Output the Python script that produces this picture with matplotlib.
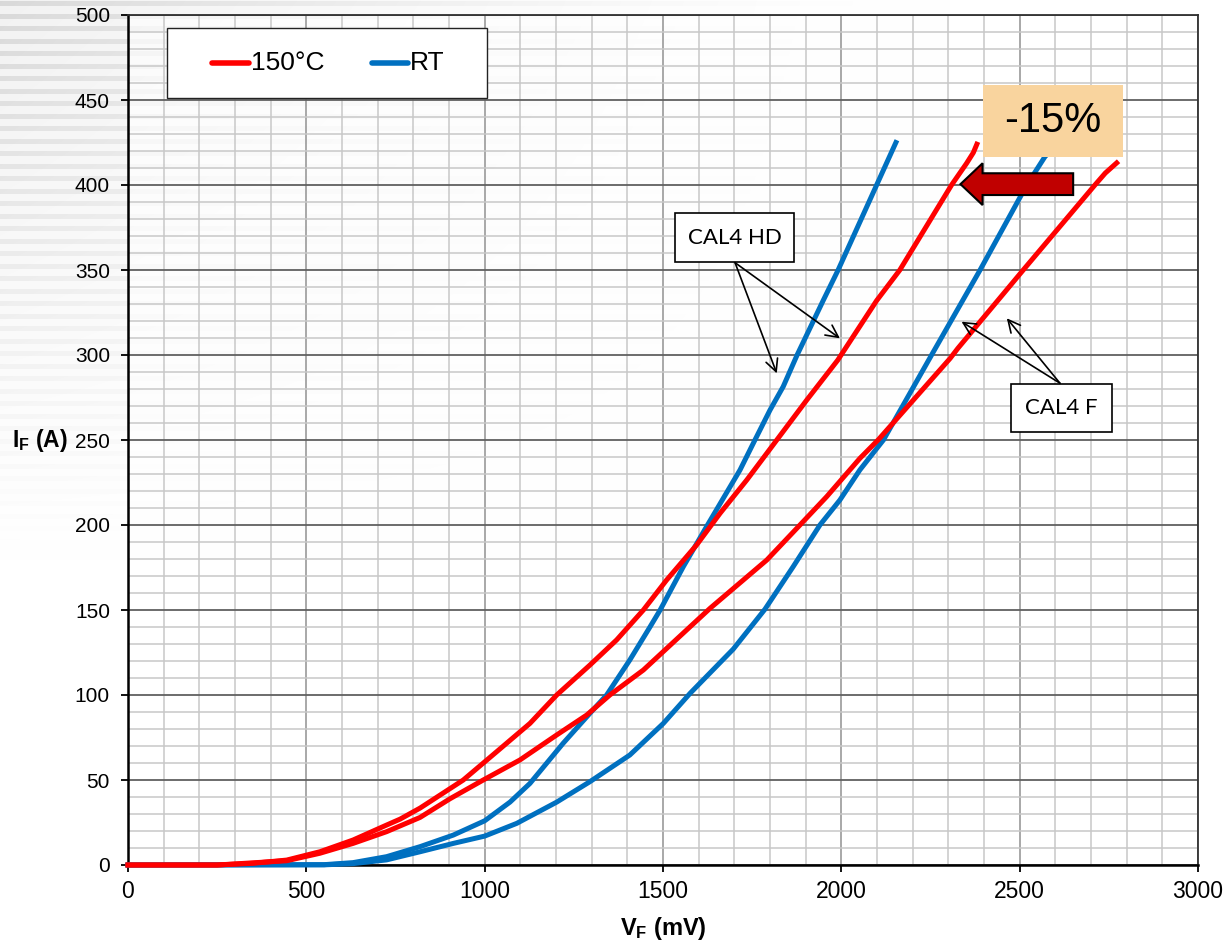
import numpy as np
import matplotlib
matplotlib.use("Agg")
import matplotlib.pyplot as plt
from matplotlib.patches import Rectangle, Polygon
from matplotlib.lines import Line2D
from matplotlib.ticker import MultipleLocator

plt.rcParams['font.family'] = ['Liberation Sans', 'DejaVu Sans']
plt.rcParams['mathtext.fontset'] = 'custom'
plt.rcParams['mathtext.rm'] = 'Liberation Sans'
plt.rcParams['mathtext.bf'] = 'Liberation Sans:bold'

# ---------------- data (V_F in mV, I_F in A) ----------------
red_hd_v = [0, 250, 351, 445, 538, 631, 725, 763, 819, 940, 1034, 1127, 1202, 1295, 1370,
            1445, 1510, 1594, 1660, 1735, 1819, 1903, 1990, 2099, 2164, 2309, 2351, 2370, 2380]
red_hd_i = [0, 0, 1.0, 2.9, 7.8, 14.7, 23.5, 27, 33.5, 50, 66.7, 83.3, 100, 117.6, 132.4,
            150, 167.6, 188.2, 206.9, 226.5, 250, 273.5, 297, 332, 350, 400, 412.7, 419, 424]

red_f_v = [0, 250, 445, 538, 631, 725, 819, 903, 996, 1099, 1202, 1286, 1351, 1445, 1566,
           1632, 1791, 1884, 1959, 2052, 2103, 2305, 2327, 2510, 2711, 2740, 2772]
red_f_i = [0, 0, 2.5, 6.9, 12.7, 19.6, 28, 39, 50, 61.8, 76.5, 88.2, 100, 114.7, 138.2,
           151, 179.4, 200, 216.7, 239.2, 250, 298, 304, 350, 400, 407, 413]

blue_hd_v = [0, 550, 631, 725, 819, 912, 1000, 1071, 1127, 1220, 1295, 1342, 1407, 1464,
             1492, 1557, 1622, 1716, 1753, 1800, 1837, 1876, 1949, 1991, 2099, 2153]
blue_hd_i = [0, 0.2, 1.4, 4.9, 10.8, 17.6, 26, 37, 48, 71.6, 89.2, 100, 120.6, 140.2,
             150, 175.5, 199, 232.4, 248, 267.6, 281.4, 300, 332, 350, 400, 425]

blue_f_v = [0, 550, 631, 725, 819, 912, 1000, 1090, 1202, 1295, 1407, 1501, 1576, 1697,
            1786, 1865, 1940, 1996, 2052, 2118, 2253, 2389, 2520, 2571, 2610]
blue_f_i = [0, 0.1, 0.8, 3, 7.8, 12.7, 17, 24.5, 37, 49, 64.7, 83.3, 101, 127,
            150.5, 175.5, 200, 214.7, 232.4, 250, 300, 350, 400, 416.7, 425]

legend_labels = ['150°C', 'RT']
RED = '#FF0000'
BLUE = '#0070C0'

W, H = 1226, 942
fig = plt.figure(figsize=(W / 100, H / 100), dpi=100)
fig.patch.set_facecolor('white')

# ---------------- slide background stripes (decorative) ----------------
bg = fig.add_axes([0, 0, 1, 1], zorder=-10)
yy, xx = np.mgrid[0:H, 0:W]
env = np.clip(1 - xx / 950.0, 0, 1) ** 1.6 * np.clip(1 - yy / 560.0, 0, 1) ** 1.1
stripe = (np.sin(2 * np.pi * yy / 12.5) > 0.25).astype(float)
shade = 1 - env * (0.05 + 0.10 * stripe)
img = np.dstack([shade, shade, shade])
bg.imshow(img, extent=[0, 1, 0, 1], aspect='auto')
bg.axis('off')

# ---------------- main axes ----------------
ax = fig.add_axes([128 / W, 77 / H, 1070 / W, 850 / H])
ax.patch.set_facecolor('white')
ax.patch.set_alpha(0.65)
ax.set_xlim(0, 3000)
ax.set_ylim(0, 500)
ax.xaxis.set_major_locator(MultipleLocator(500))
ax.yaxis.set_major_locator(MultipleLocator(50))
ax.xaxis.set_minor_locator(MultipleLocator(100))
ax.yaxis.set_minor_locator(MultipleLocator(10))
ax.set_axisbelow(True)
ax.grid(which='minor', color='#c8c8c8', linewidth=1.1)
ax.grid(which='major', axis='x', color='#9a9a9a', linewidth=1.2)
ax.grid(which='major', axis='y', color='#606060', linewidth=1.3)
ax.tick_params(which='minor', length=0)
ax.tick_params(which='major', length=5, width=1.3, direction='out', color='black')
ax.tick_params(axis='y', pad=8, labelsize=15)
ax.tick_params(axis='x', pad=6, labelsize=16.5)
for s in ['left', 'bottom']:
    ax.spines[s].set_linewidth(1.8)
    ax.spines[s].set_color('black')
for s in ['top', 'right']:
    ax.spines[s].set_linewidth(1.3)
    ax.spines[s].set_color('#303030')

lw = 3.6
ax.plot(blue_hd_v, blue_hd_i, color=BLUE, lw=lw, solid_joinstyle='round', clip_on=False, zorder=3)
ax.plot(blue_f_v, blue_f_i, color=BLUE, lw=lw, solid_joinstyle='round', clip_on=False, zorder=3)
ax.plot(red_hd_v, red_hd_i, color=RED, lw=lw, solid_joinstyle='round', clip_on=False, zorder=4)
ax.plot(red_f_v, red_f_i, color=RED, lw=lw, solid_joinstyle='round', clip_on=False, zorder=4)

# ---------------- legend (drawn manually) ----------------
ax.add_patch(Rectangle((0.0364, 0.9024), 0.2991, 0.0823, transform=ax.transAxes,
                       facecolor='white', edgecolor='#222222', lw=1.0, zorder=6))
ly = 0.9435
ax.add_line(Line2D([0.0785, 0.1131], [ly, ly], transform=ax.transAxes, color=RED,
                   lw=4, solid_capstyle='round', zorder=7))
ax.text(0.1150, ly, legend_labels[0], transform=ax.transAxes, fontsize=19,
        va='center', ha='left', zorder=7)
ax.add_line(Line2D([0.2280, 0.2617], [ly, ly], transform=ax.transAxes, color=BLUE,
                   lw=4, solid_capstyle='round', zorder=7))
ax.text(0.2636, ly, legend_labels[1], transform=ax.transAxes, fontsize=19,
        va='center', ha='left', zorder=7)

# ---------------- annotations ----------------
def label_box(x0, x1, y0, y1, text):
    ax.add_patch(Rectangle((x0, y0), x1 - x0, y1 - y0, facecolor='white',
                           edgecolor='black', lw=1.2, zorder=8))
    ax.text((x0 + x1) / 2, (y0 + y1) / 2, text, fontsize=16, family='Lato',
            ha='center', va='center', zorder=9)

def arrow(frm, to):
    ax.annotate('', xy=to, xytext=frm, zorder=8,
                arrowprops=dict(arrowstyle='->', color='black', lw=1.2,
                                shrinkA=0, shrinkB=0, mutation_scale=22))

label_box(1534, 1867, 354.7, 383.5, 'CAL4 HD')
arrow((1702, 354.3), (1819, 289.2))
arrow((1702, 354.3), (1996, 309.8))

label_box(2476, 2759, 254.7, 283.0, 'CAL4 F')
arrow((2613, 283.4), (2337, 319.6))
arrow((2613, 283.4), (2464, 321.6))

# -15% box
ax.add_patch(Rectangle((2397, 416.5), 393, 42.3, facecolor='#F9D49E', edgecolor='none',
                       zorder=8, clip_on=False))
ax.text(2593, 437.6, '-15%', fontsize=30, ha='center', va='center', zorder=9)

# big dark red arrow pointing left
arr = Polygon([(2334, 400.5), (2396, 412.8), (2396, 406.9), (2650, 406.9),
               (2650, 394.1), (2396, 394.1), (2396, 388.2)],
              closed=True, facecolor='#C00000', edgecolor='black', lw=1.5, zorder=8)
ax.add_patch(arr)

# ---------------- axis labels ----------------
fig.text(40 / W, 1 - 441 / H, r'$\mathbf{I_F}$ (A)', fontsize=16.5, fontweight='bold',
         ha='center', va='center')
fig.text(663 / W, 1 - 928 / H, r'$\mathbf{V_F}$ (mV)', fontsize=17, fontweight='bold',
         ha='center', va='center')

fig.savefig('out.png', dpi=100)
